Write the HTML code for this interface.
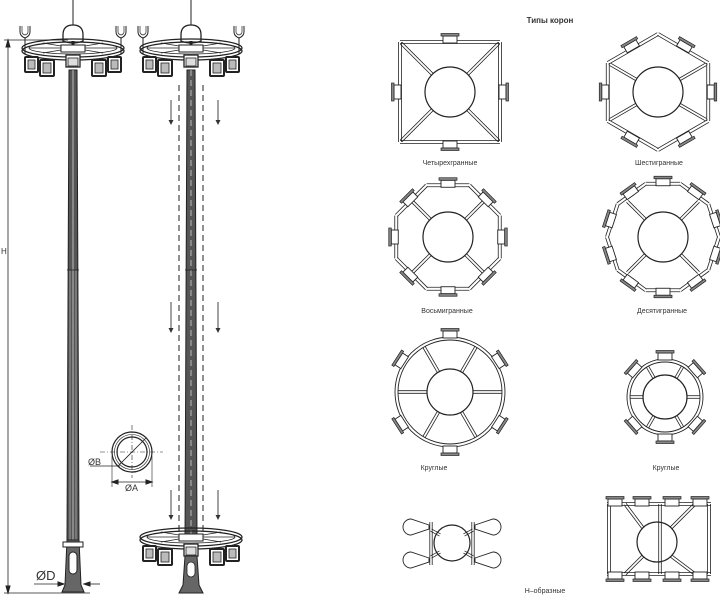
<!DOCTYPE html>
<html><head><meta charset="utf-8">
<style>
html,body{margin:0;padding:0;background:#fff;width:720px;height:600px;overflow:hidden}
svg{display:block}
text{font-family:"Liberation Sans","Noto Sans CJK SC",sans-serif;fill:#333}
</style></head>
<body>
<svg id="s" width="720" height="600" viewBox="0 0 720 600" xmlns="http://www.w3.org/2000/svg">
<g id="g" fill="none" stroke="#222" stroke-width="1"></g>
<text x="550" y="23" font-size="8" font-weight="bold" text-anchor="middle">Типы корон</text>
<text x="450" y="165" font-size="7" text-anchor="middle">Четырехгранные</text>
<text x="659" y="165" font-size="7" text-anchor="middle">Шестигранные</text>
<text x="447" y="313" font-size="7" text-anchor="middle">Восьмигранные</text>
<text x="662" y="313" font-size="7" text-anchor="middle">Десятигранные</text>
<text x="434" y="470" font-size="7" text-anchor="middle">Круглые</text>
<text x="666" y="470" font-size="7" text-anchor="middle">Круглые</text>
<text x="545" y="593" font-size="7" text-anchor="middle">Н–образные</text>
<text x="1" y="254" font-size="8">H</text>
<text x="88" y="465" font-size="9">ØB</text>
<text x="125" y="491" font-size="9">ØA</text>
<text x="36" y="580" font-size="13">ØD</text>
</svg>
<script>
(function(){
var g=document.getElementById('g'),NS='http://www.w3.org/2000/svg';
function el(t,a){var e=document.createElementNS(NS,t);for(var k in a)e.setAttribute(k,a[k]);g.appendChild(e);return e;}
function L(x1,y1,x2,y2,w,c,extra){var a={x1:x1,y1:y1,x2:x2,y2:y2,'stroke-width':w||1};if(c)a.stroke=c;if(extra)for(var k in extra)a[k]=extra[k];return el('line',a);}
function C(x,y,r,w){return el('circle',{cx:x,cy:y,r:r,'stroke-width':w||1.2});}
function dbl(x1,y1,x2,y2,gap){var dx=x2-x1,dy=y2-y1,l=Math.hypot(dx,dy)||1,nx=-dy/l*gap,ny=dx/l*gap;L(x1+nx,y1+ny,x2+nx,y2+ny,0.8);L(x1-nx,y1-ny,x2-nx,y2-ny,0.8);}
function lamp(x,y,ang){
  var gg=document.createElementNS(NS,'g');gg.setAttribute('transform','translate('+x+','+y+') rotate('+(ang*180/Math.PI)+')');
  var r1=document.createElementNS(NS,'rect');[['x',-3],['y',-7],['width',7],['height',14],['fill','#fff'],['stroke','#222'],['stroke-width',0.9]].forEach(function(p){r1.setAttribute(p[0],p[1]);});
  var r2=document.createElementNS(NS,'rect');[['x',4],['y',-9],['width',2.5],['height',18],['fill','#888'],['stroke','#222'],['stroke-width',0.7]].forEach(function(p){r2.setAttribute(p[0],p[1]);});
  gg.appendChild(r1);gg.appendChild(r2);g.appendChild(gg);}
function poly(cx,cy,R,n,rot){var p=[];for(var i=0;i<n;i++){var a=rot+i*2*Math.PI/n;p.push([cx+R*Math.cos(a),cy+R*Math.sin(a)]);}
  for(var i=0;i<n;i++){var a=p[i],b=p[(i+1)%n];dbl(a[0],a[1],b[0],b[1],1.5);}
  return p;}
function spokes(cx,cy,r1,r2,angs){angs.forEach(function(a){dbl(cx+r1*Math.cos(a),cy+r1*Math.sin(a),cx+r2*Math.cos(a),cy+r2*Math.sin(a),1.3);});}
var PI=Math.PI;
function T(f){try{f();}catch(e){}}
T(function(){var cx=450,cy=92,h=50;
 dbl(cx-h,cy-h,cx+h,cy-h,1.5);dbl(cx-h,cy+h,cx+h,cy+h,1.5);dbl(cx-h,cy-h,cx-h,cy+h,1.5);dbl(cx+h,cy-h,cx+h,cy+h,1.5);
 C(cx,cy,25);spokes(cx,cy,25,h*1.38,[PI/4,3*PI/4,5*PI/4,7*PI/4]);
 lamp(cx,cy-h-2,-PI/2);lamp(cx,cy+h+2,PI/2);lamp(cx-h-2,cy,PI);lamp(cx+h+2,cy,0);});
T(function(){var cx=658,cy=92,R=58;poly(cx,cy,R,6,-PI/2);C(cx,cy,25);
 spokes(cx,cy,25,R*0.95,[-PI/6,PI/6,5*PI/6,7*PI/6]);
 for(var i=0;i<6;i++){var a=-PI/2+PI/6+i*PI/3;var ri=R*Math.cos(PI/6);lamp(cx+(ri+2)*Math.cos(a),cy+(ri+2)*Math.sin(a),a);} });
T(function(){var cx=448,cy=237,R=56;poly(cx,cy,R,8,PI/8);C(cx,cy,25);spokes(cx,cy,25,R*0.9,[PI/4,3*PI/4,5*PI/4,7*PI/4]);
 for(var i=0;i<8;i++){var a=i*PI/4;var ri=R*Math.cos(PI/8);lamp(cx+(ri+1)*Math.cos(a),cy+(ri+1)*Math.sin(a),a);} });
T(function(){var cx=663,cy=237,R=56;poly(cx,cy,R,10,PI/5);C(cx,cy,25);spokes(cx,cy,25,R*0.9,[PI/4,3*PI/4,5*PI/4,7*PI/4]);
 for(var i=0;i<10;i++){var a=PI/5*i+PI/5+PI/10;var ri=R*Math.cos(PI/10);lamp(cx+(ri+1)*Math.cos(a),cy+(ri+1)*Math.sin(a),a);} });
T(function(){var cx=450,cy=392,R=55;C(cx,cy,R,0.9);C(cx,cy,R-3,0.9);C(cx,cy,23);
 spokes(cx,cy,23,R-3,[0,PI/3,2*PI/3,PI,4*PI/3,5*PI/3]);
 [-PI/2,PI/2,-PI/6-0.05,PI/6+0.05,5*PI/6-0.05,7*PI/6+0.05].forEach(function(a){lamp(cx+(R+2)*Math.cos(a),cy+(R+2)*Math.sin(a),a);});});
T(function(){var cx=665,cy=397,R=38;C(cx,cy,R,0.9);C(cx,cy,R-3,0.9);C(cx,cy,22);
 spokes(cx,cy,22,R-3,[0,PI/3,2*PI/3,PI,4*PI/3,5*PI/3]);
 [-PI/2,PI/2,-PI/6-0.2,PI/6+0.2,5*PI/6-0.2,7*PI/6+0.2].forEach(function(a){lamp(cx+(R+2)*Math.cos(a),cy+(R+2)*Math.sin(a),a);});});
T(function(){var cx=452,cy=543;C(cx,cy,18);dbl(431,522,431,565,1.2);dbl(473,522,473,565,1.2);
 dbl(431,530,440,535,1.2);dbl(473,530,464,535,1.2);dbl(431,557,440,552,1.2);dbl(473,557,464,552,1.2);
 function pad(x,y,d){el('path',{d:'M'+x+','+(y-2)+' L'+(x+d*18)+','+(y-8)+' A8 8 0 0 '+(d>0?1:0)+' '+(x+d*18)+','+(y+8)+' L'+x+','+(y+2)+' Z','stroke-width':0.9});}
 pad(429,527,-1);pad(429,560,-1);pad(475,527,1);pad(475,560,1);});
T(function(){var x1=607,x2=711,y1=504,y2=574,cx=657,cy=542;
 dbl(x1,y1,x2,y1,1.5);dbl(x1,y2,x2,y2,1.5);dbl(x1+2,y1,x1+2,y2,1.5);dbl(x2-2,y1,x2-2,y2,1.5);dbl(cx+3,y1,cx+3,y2,1.3);
 C(cx,cy,20);dbl(625,y1,643,528,1.3);dbl(695,y1,671,528,1.3);dbl(625,y2,643,556,1.3);dbl(695,y2,671,556,1.3);
 [612,639,669,697].forEach(function(x){lamp(x+3,y1-1,-PI/2);lamp(x+3,y2+1,PI/2);});});
function crown(cx,cy){
 el('ellipse',{cx:cx,cy:cy,rx:51,ry:9,'stroke-width':1.3});el('ellipse',{cx:cx,cy:cy+3,rx:51,ry:9,'stroke-width':1.3});
 el('ellipse',{cx:cx,cy:cy,rx:44,ry:6,'stroke-width':0.8});
 L(cx-44,cy,cx+44,cy,0.8);L(cx-30,cy-5,cx+30,cy+5,0.8);L(cx-30,cy+5,cx+30,cy-5,0.8);
 el('rect',{x:cx-12,y:cy-3,width:24,height:7,fill:'#fff','stroke-width':1});
 [[-48,9,13,15],[-33,12,14,16],[19,12,14,16],[35,9,13,15]].forEach(function(b){
  el('rect',{x:cx+b[0],y:cy+b[1],width:b[2],height:b[3],fill:'#fff','stroke-width':2,rx:1});
  el('rect',{x:cx+b[0]+3,y:cy+b[1]+3,width:b[2]-6,height:b[3]-6,fill:'#bbb','stroke-width':0.8});});
 el('rect',{x:cx-7,y:cy+7,width:14,height:12,fill:'#fff','stroke-width':1.3});el('rect',{x:cx-5,y:cy+10,width:10,height:8,fill:'#ddd','stroke-width':0.8});
}
function drawTop(cx,cy){
 L(cx,0,cx,cy-14,1);el('path',{d:'M'+(cx-10)+','+(cy-13)+' q0,-10 10,-10 q10,0 10,10 v6 q-10,4 -20,0 z',fill:'#fff','stroke-width':1.3});
 L(cx,cy-7,cx,cy,3,'#222');
 [cx-48,cx+48].forEach(function(x){L(x,cy-10,x,cy+6,1);el('path',{d:'M'+(x-5)+','+(cy-22)+' v6 q0,4 5,6 q5,-2 5,-6 v-6','stroke-width':1});el('path',{d:'M'+(x-3)+','+(cy-22)+' v6 q0,2 3,3 q3,-1 3,-3 v-6','stroke-width':0.7});});
}
function arrow(x,y1,y2){L(x,y1,x,y2-4,1,'#444');el('path',{d:'M'+(x-2.5)+','+(y2-5)+' L'+(x+2.5)+','+(y2-5)+' L'+x+','+y2+' Z',fill:'#333',stroke:'none'});}
T(function(){
drawTop(73,48);
el('path',{d:'M69,70 L77,70 L79,540 L67,540 Z',fill:'#555',stroke:'#222','stroke-width':1});
L(73,70,73,540,1,'#bbb');L(70,270,70,540,0.6,'#ccc');L(76,270,76,540,0.6,'#ccc');L(67,270,79,270,0.8);
el('path',{d:'M67,540 L79,540 L81,585 L84,592 L62,592 L65,585 Z',fill:'#666',stroke:'#222','stroke-width':1});
el('rect',{x:63,y:542,width:20,height:5,fill:'#fff','stroke-width':1});
el('rect',{x:69,y:552,width:8,height:22,rx:4,fill:'#fff','stroke-width':1});
crown(73,48);
});
T(function(){
drawTop(191,48);
el('path',{d:'M187,70 L195,70 L197,540 L185,540 Z',fill:'#555',stroke:'#222','stroke-width':1});
L(191,70,191,540,1.2,'#aaa',{'stroke-dasharray':'6 4'});L(185,270,197,270,0.8);
crown(191,48);
crown(191,537);
el('path',{d:'M185,556 L197,556 L199,585 L203,593 L179,593 L183,585 Z',fill:'#666',stroke:'#222','stroke-width':1});
el('rect',{x:187,y:562,width:8,height:15,rx:4,fill:'#fff','stroke-width':0.8});
L(179,85,179,535,1,'#222',{'stroke-dasharray':'6 4'});L(203,85,203,535,1,'#222',{'stroke-dasharray':'6 4'});
[[100,125],[302,333],[490,520]].forEach(function(r){arrow(171,r[0],r[1]);arrow(218,r[0],r[1]);});
});
T(function(){
L(8,40,8,593,0.8);L(4,40,68,40,0.7);L(4,593,90,593,0.7);el('path',{d:'M8,40 l-2,7 h4 z',fill:'#222'});el('path',{d:'M8,593 l-2,-7 h4 z',fill:'#222'});
L(34,584,64,584,0.8);L(84,584,100,584,0.8);el('path',{d:'M64,584 l-6,-2 v4 z',fill:'#222'});el('path',{d:'M84,584 l6,-2 v4 z',fill:'#222'});
C(132,452,20,1.2);C(132,452,15,1.2);C(132,452,17.5,0.6);
L(100,452,163,452,0.6,'#222',{'stroke-dasharray':'5 2 1 2'});L(132,425,132,478,0.6,'#222',{'stroke-dasharray':'5 2 1 2'});
L(118,466,146,438,0.8);L(90,466,120,466,0.7);
L(112,456,112,487,0.6);L(152,456,152,487,0.6);L(112,482,152,482,0.7);
el('path',{d:'M112,482 l6,-2 v4 z',fill:'#222'});el('path',{d:'M152,482 l-6,-2 v4 z',fill:'#222'});
});
})();
</script>
</body></html>
